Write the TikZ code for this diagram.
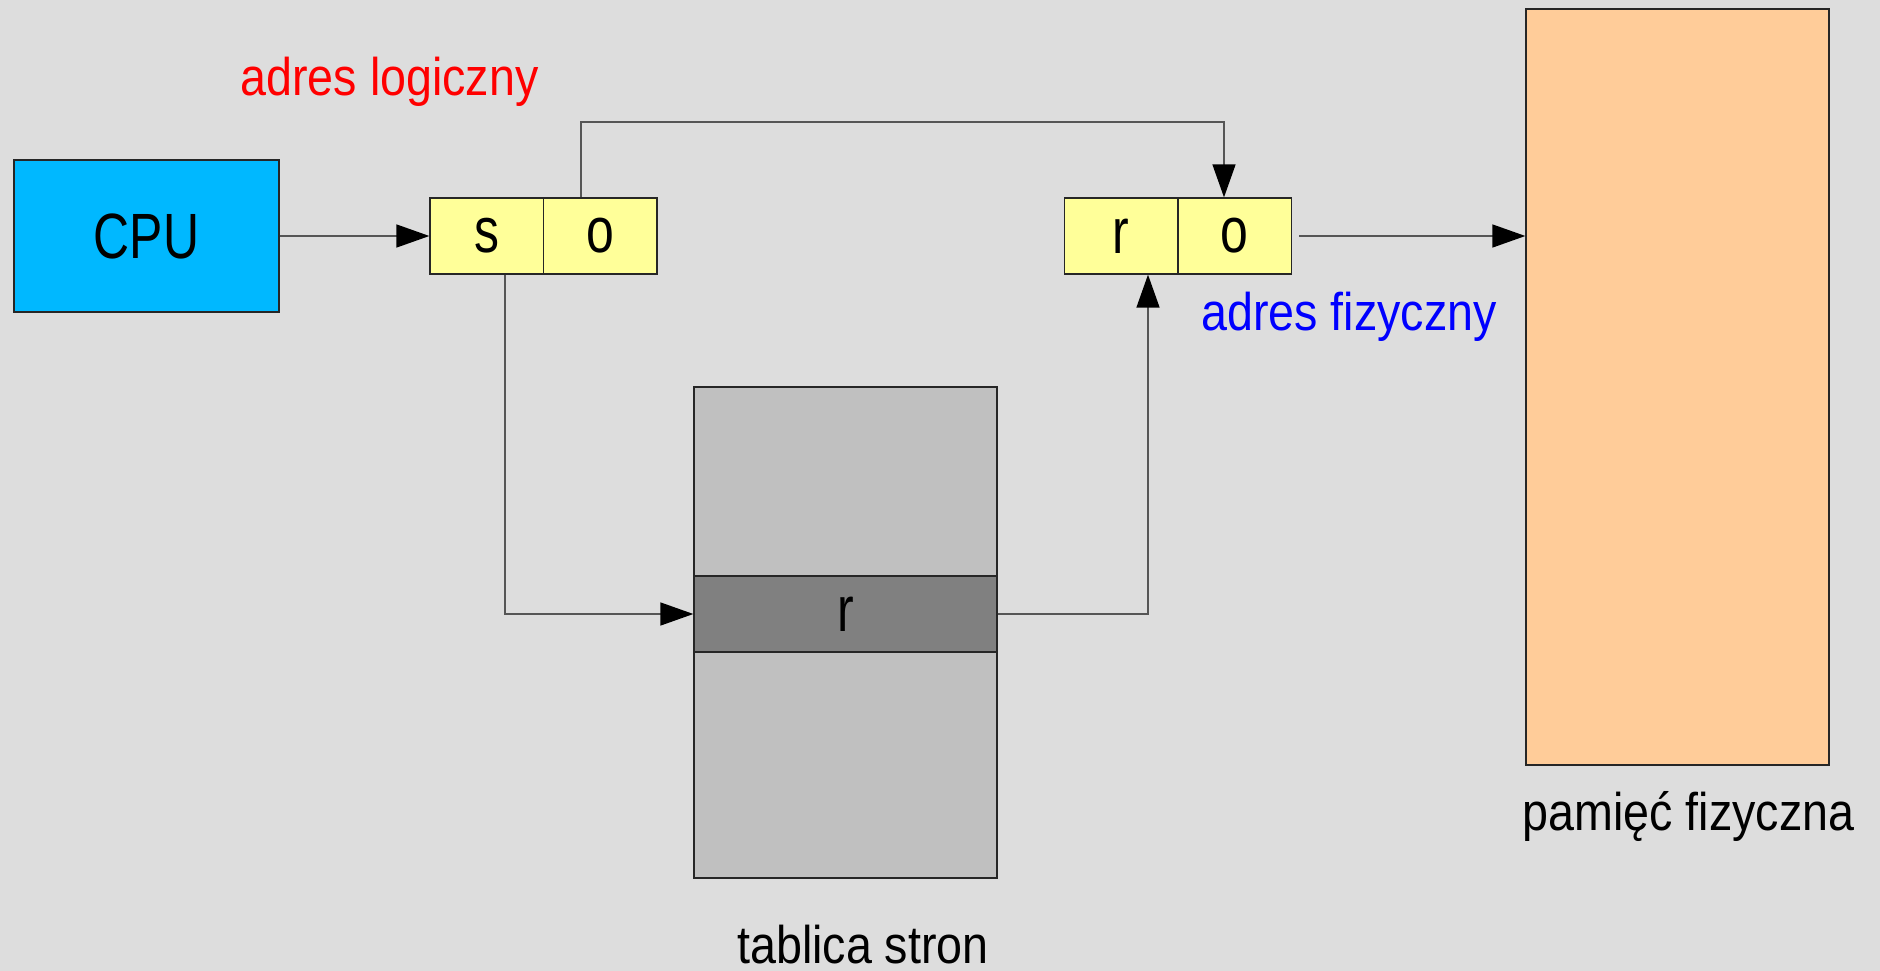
\documentclass[tikz,border=0pt]{standalone}
\usepackage{fontspec}
\setmainfont{Liberation Sans}[FakeStretch=0.88]
\newfontfamily\narrowfont{Liberation Sans}[FakeStretch=0.78]
\usetikzlibrary{arrows.meta,calc}
\definecolor{bg}{HTML}{DDDDDD}
\definecolor{cpublue}{HTML}{00B8FF}
\definecolor{cellyellow}{HTML}{FFFF99}
\definecolor{tablegray}{HTML}{C0C0C0}
\definecolor{rowgray}{HTML}{808080}
\definecolor{memorange}{HTML}{FFCC99}
\definecolor{linegray}{HTML}{555555}
\tikzset{
  box/.style={draw=black!85, line width=1.3pt, inner sep=0pt, font=\narrowfont\fontsize{64}{70}\selectfont},
  cell/.style={box, fill=cellyellow, minimum width=113.5pt, minimum height=76pt},
  lbl/.style={anchor=base, inner sep=0pt, font=\fontsize{53}{60}\selectfont},
  conn/.style={draw=linegray, line width=1.5pt},
  arr/.style={conn, -{Triangle[length=33pt, width=23pt, color=black]}}
}
\begin{document}
\begin{tikzpicture}[x=1pt, y=-1pt]
\fill[bg] (0,0) rectangle (1880,971);
\useasboundingbox (0,0) rectangle (1880,971);
% boxes
\node[box, fill=cpublue, minimum width=265pt, minimum height=152pt] (cpu) at (146.5,236) {CPU};
\node[cell] (s) at (486.75,236) {s};
\node[cell] (o1) at (600.25,236) {o};
\node[cell] (r) at (1121.25,236) {r};
\node[cell] (o2) at (1234.75,236) {o};
\node[box, fill=tablegray, minimum width=303pt, minimum height=491pt] (tab) at (845.5,632.5) {};
\node[box, fill=rowgray, minimum width=303pt, minimum height=76pt] (row) at (845.5,614) {r};
\node[box, fill=memorange, minimum width=303pt, minimum height=756pt] (mem) at (1677.5,387) {};
% labels
\node[lbl, text=red] (la) at (389.5,96) {adres logiczny};
\node[lbl, text=blue] (lf) at (1349,330) {adres fizyczny};
\node[lbl] (lt) at (863,963) {tablica stron};
\node[lbl] (lp) at (1688.5,830) {pamięć fizyczna};
% helper coordinates
\coordinate (t1) at (581,122);
\coordinate (t2) at (1224,122);
\coordinate (c1) at (505,614);
\coordinate (c2) at (1148,614);
% connectors
\draw[arr] (cpu.east) -- (s.west);
\draw[arr] (t1 |- o1.north) -- (t1) -- (t2) -- (t2 |- o2.north);
\draw[arr] (c1 |- s.south) -- (c1) -- (row.west);
\draw[arr] (row.east) -- (c2) -- (c2 |- r.south);
\draw[arr] ([xshift=7pt]o2.east) -- (mem.west |- o2.east);
\end{tikzpicture}
\end{document}
